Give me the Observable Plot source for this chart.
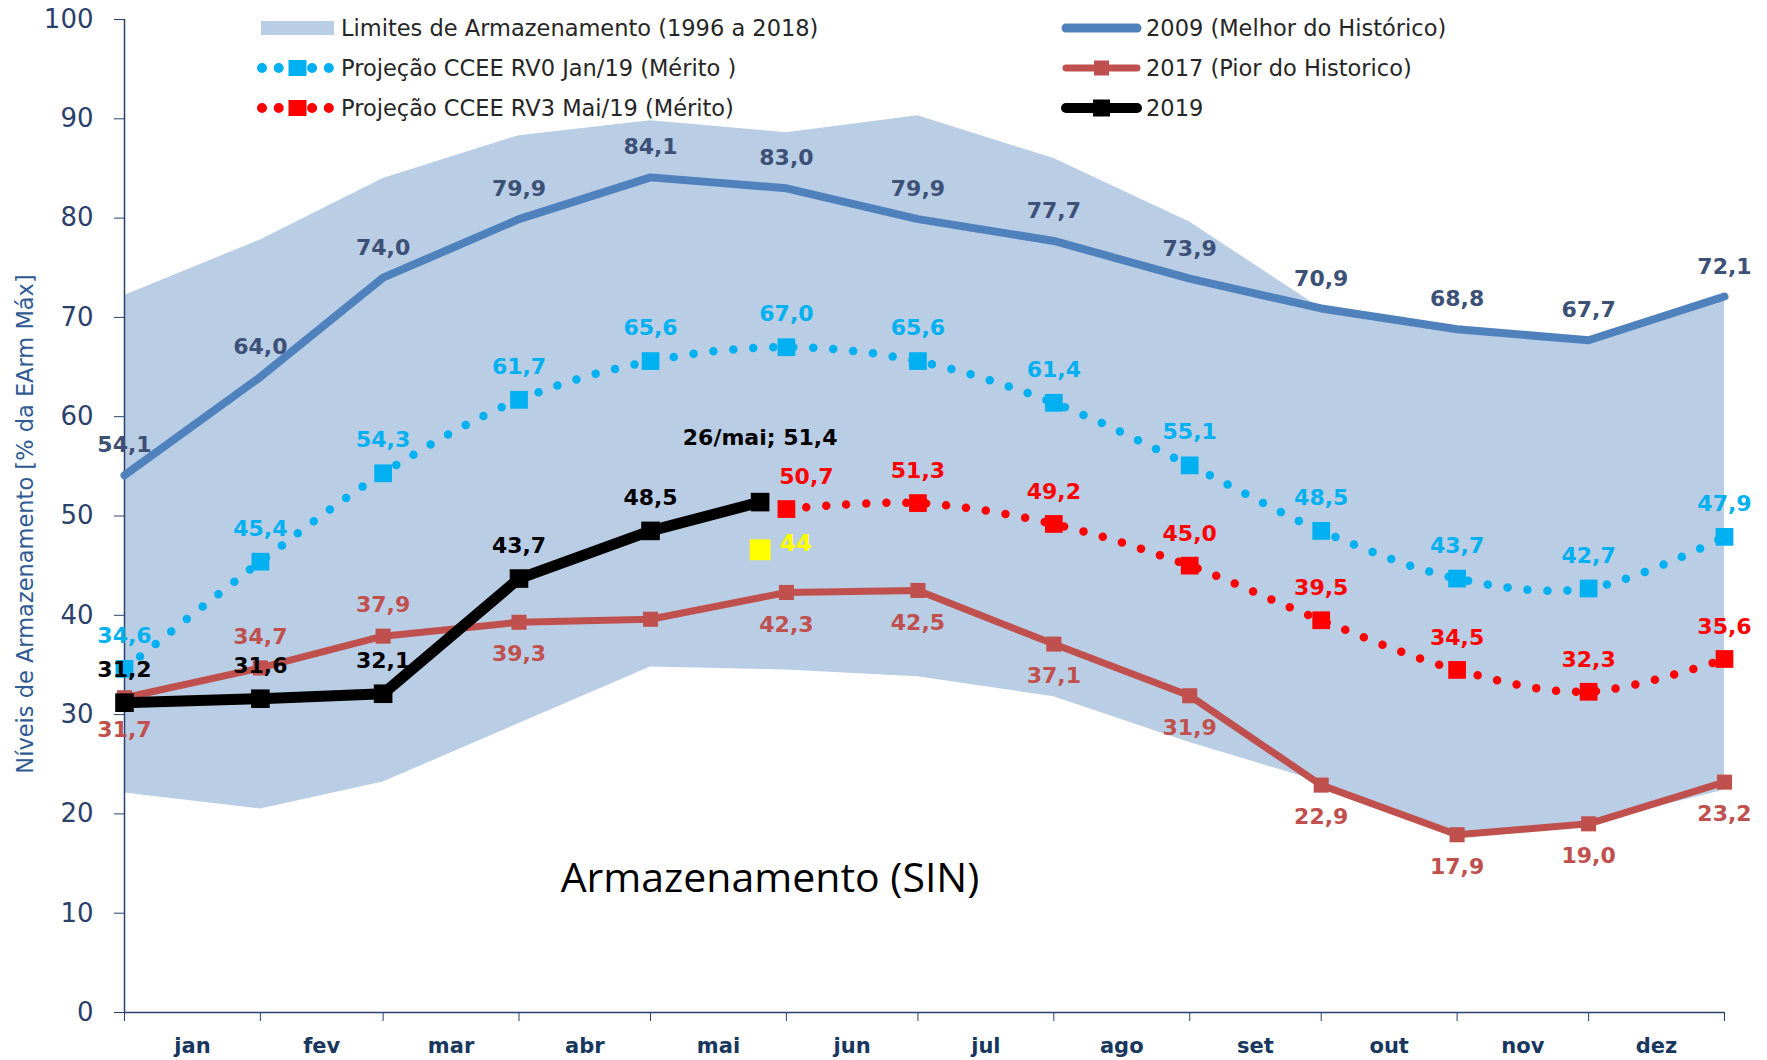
<!DOCTYPE html>
<html>
<head>
<meta charset="utf-8">
<script src="https://cdn.jsdelivr.net/npm/d3@7"></script>
<script src="https://cdn.jsdelivr.net/npm/@observablehq/plot@0.6"></script>
<style>
  html, body { margin: 0; padding: 0; background: #ffffff; }
  #chart { width: 1767px; height: 1060px; }
</style>
</head>
<body>
<div id="chart"></div>
<script>
// ---------- data ----------
const monthLabels = ["jan", "fev", "mar", "abr", "mai", "jun", "jul", "ago", "set", "out", "nov", "dez"];
const pointDates = ["2019-01-01", "2019-02-01", "2019-03-01", "2019-04-01", "2019-05-01", "2019-06-01",
                    "2019-07-01", "2019-08-01", "2019-09-01", "2019-10-01", "2019-11-01", "2019-12-01", "2020-01-01"];
const yTicks = [0, 10, 20, 30, 40, 50, 60, 70, 80, 90, 100];

const bandUpper = [72.2, 77.8, 84.0, 88.3, 89.8, 88.6, 90.3, 86.0, 79.6, 70.9, 68.8, 67.7, 72.1];
const bandLower = [22.1, 20.5, 23.2, 29.1, 34.8, 34.5, 33.8, 31.8, 27.2, 23.2, 17.9, 19.0, 22.4];
const best2009  = [54.1, 64.0, 74.0, 79.9, 84.1, 83.0, 79.9, 77.7, 73.9, 70.9, 68.8, 67.7, 72.1];
const worst2017 = [31.7, 34.7, 37.9, 39.3, 39.6, 42.3, 42.5, 37.1, 31.9, 22.9, 17.9, 19.0, 23.2];
const worst2017LabelSide = ["below", "above", "above", "below", "none", "below", "below", "below", "below", "below", "below", "below", "below"];
const projRV0   = [34.6, 45.4, 54.3, 61.7, 65.6, 67.0, 65.6, 61.4, 55.1, 48.5, 43.7, 42.7, 47.9];
const projRV3   = [50.7, 51.3, 49.2, 45.0, 39.5, 34.5, 32.3, 35.6];           // jun .. jan/20
const actual2019Dates = ["2019-01-01", "2019-02-01", "2019-03-01", "2019-04-01", "2019-05-01", "2019-05-26"];
const actual2019 = [31.2, 31.6, 32.1, 43.7, 48.5, 51.4];
const lastObsLabel = "26/mai";
const extraPoint = {date: "2019-05-26", value: 46.6, label: "44"};

// ---------- helpers ----------
const parse = s => new Date(s + "T00:00:00Z");
const dates = pointDates.map(parse);
const fmt = v => d3.format(".1f")(v).replace(".", ",");
const toRows = (values, ds) => values.map((v, i) => ({date: ds[i], value: v, label: fmt(v), i}));

const band = dates.map((d, i) => ({date: d, lo: bandLower[i], hi: bandUpper[i]}));
const d2009 = toRows(best2009, dates);
const d2017 = toRows(worst2017, dates).map((d, i) => ({...d, side: worst2017LabelSide[i]}));
const dRV0 = toRows(projRV0, dates);
const dRV3 = toRows(projRV3, dates.slice(5));
const d2019 = toRows(actual2019, actual2019Dates.map(parse));
d2019[d2019.length - 1].label = `${lastObsLabel}; ${fmt(actual2019[actual2019.length - 1])}`;
const dExtra = [{date: parse(extraPoint.date), value: extraPoint.value, label: extraPoint.label}];
const monthMids = monthLabels.map((_, i) => new Date((+dates[i] + +dates[i + 1]) / 2));

// ---------- colours ----------
const C = {
  band: "#b9cde5", c2009: "#4f81bd", c2009txt: "#3d5177", c2017: "#c0504d",
  rv0: "#00b0f0", rv3: "#ff0000", c2019: "#000000", extra: "#ffff00",
  axis: "#29426e", tick: "#2b3f6b", month: "#17375e", ytitle: "#2f5a93"
};
const LBL = {fontSize: 22, fontWeight: "bold", fontFamily: "DejaVu Sans"};

const chart = Plot.plot({
  width: 1767, height: 1060,
  marginLeft: 124, marginRight: 43, marginTop: 19, marginBottom: 48,
  style: {background: "#ffffff", fontFamily: "DejaVu Sans", color: C.axis},
  x: {type: "utc", domain: [dates[0], dates[dates.length - 1]]},
  y: {domain: [0, 100]},
  marks: [
    Plot.areaY(band, {x: "date", y1: "lo", y2: "hi", fill: C.band}),
    Plot.ruleX([dates[0]], {stroke: C.axis, strokeWidth: 1.5}),
    Plot.ruleY([0], {stroke: C.axis, strokeWidth: 1.5}),
    Plot.axisY({ticks: yTicks, tickSize: 10, tickPadding: 21, fontSize: 26, fill: C.tick, stroke: C.axis, label: null, tickFormat: d => String(d)}),
    Plot.axisX({ticks: dates, tickSize: 9, tickFormat: () => "", stroke: C.axis, label: null}),
    Plot.axisX({ticks: monthMids, tickSize: 0, tickPadding: 26, fontSize: 21, fontWeight: "bold", fill: C.month, label: null,
                tickFormat: d => monthLabels[d.getUTCMonth()]}),

    // 2009
    Plot.line(d2009, {x: "date", y: "value", stroke: C.c2009, strokeWidth: 8}),
    // 2017
    Plot.line(d2017, {x: "date", y: "value", stroke: C.c2017, strokeWidth: 7}),
    Plot.dot(d2017, {x: "date", y: "value", symbol: "square", r: 8.5, fill: C.c2017}),
    // RV0
    Plot.line(dRV0, {x: "date", y: "value", stroke: C.rv0, strokeWidth: 8.5, strokeDasharray: "0 20", strokeLinecap: "round", curve: "catmull-rom"}),
    Plot.dot(dRV0, {x: "date", y: "value", symbol: "square", r: 10, fill: C.rv0}),
    // RV3
    Plot.line(dRV3, {x: "date", y: "value", stroke: C.rv3, strokeWidth: 8.5, strokeDasharray: "0 20", strokeLinecap: "round", curve: "catmull-rom"}),
    Plot.dot(dRV3, {x: "date", y: "value", symbol: "square", r: 10, fill: C.rv3}),
    // 2019
    Plot.line(d2019, {x: "date", y: "value", stroke: C.c2019, strokeWidth: 11, strokeLinejoin: "miter"}),
    Plot.dot(d2019, {x: "date", y: "value", symbol: "square", r: 10.5, fill: C.c2019}),
    // extra yellow point
    Plot.dot(dExtra, {x: "date", y: "value", symbol: "square", r: 11.8, fill: C.extra}),

    // labels
    Plot.text(d2009, {x: "date", y: "value", text: "label", dy: -30, fill: C.c2009txt, ...LBL}),
    Plot.text(d2017.filter(d => d.side === "above"), {x: "date", y: "value", text: "label", dy: -31, fill: C.c2017, ...LBL}),
    Plot.text(d2017.filter(d => d.side === "below"), {x: "date", y: "value", text: "label", dy: 32, fill: C.c2017, ...LBL}),
    Plot.text(dRV0, {x: "date", y: "value", text: "label", dy: -33, fill: C.rv0, ...LBL}),
    Plot.text(dRV3.slice(0, 1), {x: "date", y: "value", text: "label", dy: -32, dx: 20, fill: C.rv3, ...LBL}),
    Plot.text(dRV3.slice(1), {x: "date", y: "value", text: "label", dy: -32, fill: C.rv3, ...LBL}),
    Plot.text(d2019.slice(0, -1), {x: "date", y: "value", text: "label", dy: -33, fill: C.c2019, ...LBL}),
    Plot.text(d2019.slice(-1), {x: "date", y: "value", text: "label", dy: -64, fill: C.c2019, ...LBL}),
    Plot.text(dExtra, {x: "date", y: "value", text: "label", dx: 20, dy: -6, textAnchor: "start", fill: C.extra, fontSize: 23, fontWeight: "bold", fontFamily: "DejaVu Sans"})
  ]
});
document.getElementById("chart").appendChild(chart);

// ---------- legend, title, y-axis title (overlay inside the SVG) ----------
const svg = d3.select(chart);
const g = svg.append("g").attr("font-family", "DejaVu Sans").attr("text-anchor", "start");

const legendItems = [
  {col: 0, row: 0, type: "band", color: C.band, label: "Limites de Armazenamento (1996 a 2018)"},
  {col: 0, row: 1, type: "dots", color: C.rv0, label: "Projeção CCEE RV0 Jan/19 (Mérito )"},
  {col: 0, row: 2, type: "dots", color: C.rv3, label: "Projeção CCEE RV3 Mai/19 (Mérito)"},
  {col: 1, row: 0, type: "line", color: C.c2009, w: 9, label: "2009 (Melhor do Histórico)"},
  {col: 1, row: 1, type: "lineSq", color: C.c2017, w: 7, s: 15, label: "2017 (Pior do Historico)"},
  {col: 1, row: 2, type: "lineSq", color: C.c2019, w: 10, s: 17, label: "2019"}
];
const colX0 = [261, 1062], colX1 = [334, 1141], colTx = [341, 1146];
const rowY = [28, 68, 108];
for (const it of legendItems) {
  const x0 = colX0[it.col], x1 = colX1[it.col], y = rowY[it.row], xm = (x0 + x1) / 2;
  if (it.type === "band") {
    g.append("rect").attr("x", x0).attr("y", y - 7).attr("width", x1 - x0).attr("height", 14).attr("fill", it.color);
  } else if (it.type === "dots") {
    g.append("line").attr("x1", x0 + 1).attr("x2", x1 - 1).attr("y1", y).attr("y2", y)
      .attr("stroke", it.color).attr("stroke-width", 10).attr("stroke-linecap", "round").attr("stroke-dasharray", "0 16.7");
    g.append("rect").attr("x", xm - 9).attr("y", y - 8).attr("width", 18).attr("height", 16).attr("fill", it.color);
  } else {
    g.append("line").attr("x1", x0 + 4).attr("x2", x1 - 4).attr("y1", y).attr("y2", y)
      .attr("stroke", it.color).attr("stroke-width", it.w).attr("stroke-linecap", "round");
    if (it.type === "lineSq") {
      g.append("rect").attr("x", xm - it.s / 2).attr("y", y - it.s / 2).attr("width", it.s).attr("height", it.s).attr("fill", it.color);
    }
  }
  g.append("text").attr("x", colTx[it.col]).attr("y", y).attr("dy", "0.36em").attr("text-anchor", "start")
    .attr("font-size", 22.5).attr("fill", "#262626").text(it.label);
}

g.append("text").attr("x", 770).attr("y", 892).attr("text-anchor", "middle")
  .attr("font-family", "Open Sans").attr("font-size", 41).attr("fill", "#000")
  .text("Armazenamento (SIN)");

g.append("text").attr("transform", "translate(25,524) rotate(-90)").attr("text-anchor", "middle").attr("dy", "0.35em")
  .attr("font-size", 22.5).attr("fill", C.ytitle)
  .text("Níveis de Armazenamento [% da EArm Máx]");
</script>
</body>
</html>
